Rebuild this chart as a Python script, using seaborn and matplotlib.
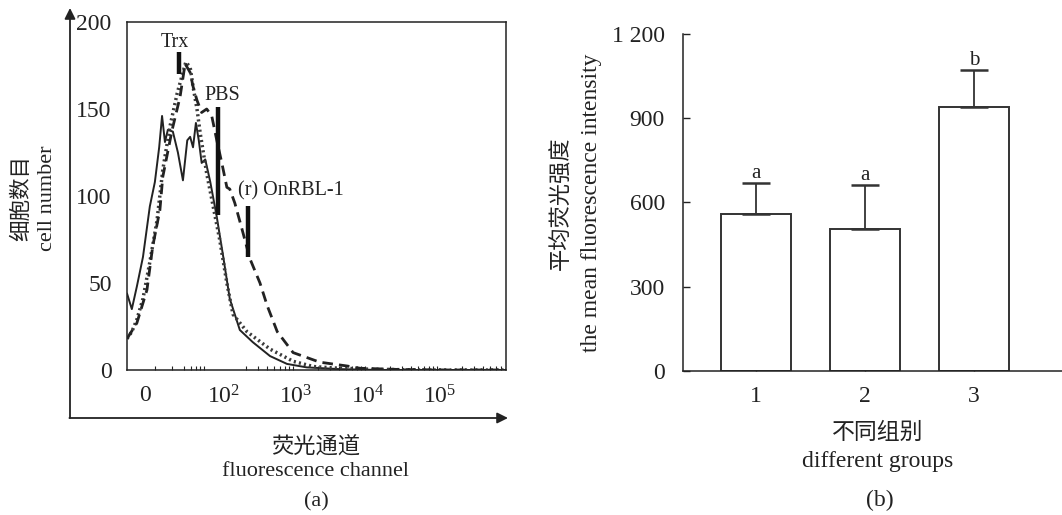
import numpy as np
import pandas as pd
import matplotlib
matplotlib.use("Agg")
import matplotlib.pyplot as plt
import seaborn as sns

sns.set_theme(style="white")
plt.rcParams["font.family"] = ["Liberation Serif", "Noto Sans CJK SC", "DejaVu Sans"]
plt.rcParams["axes.unicode_minus"] = False

INK = "#222222"
W, H = 1062, 515

# ── (a) flow histogram, x in display decades ("0" sits at 0.9) ─────
solid_x = [0.653, 0.72, 0.79, 0.875, 0.97, 1.04, 1.10, 1.14, 1.18, 1.22, 1.29, 1.36,
           1.43, 1.49, 1.53, 1.57, 1.61, 1.65, 1.69, 1.74, 1.81, 1.90, 1.99, 2.08,
           2.22, 2.40, 2.64, 2.875, 3.15, 3.61, 4.17, 5.917]
solid_y = [44, 35, 48, 65, 94, 108, 128, 146, 131, 138, 137, 125,
           109, 132, 134, 128, 142, 132, 119, 121, 108, 88, 65, 41,
           23, 16, 8, 3.5, 1.5, 0.5, 0, 0]

dotted_x = [0.653, 0.72, 0.79, 0.875, 0.97, 1.07, 1.15, 1.25, 1.35, 1.43, 1.47, 1.53,
            1.57, 1.625, 1.67, 1.76, 1.85, 1.94, 2.04, 2.125, 2.32, 2.64, 2.96,
            3.24, 3.51, 3.99, 4.72, 5.917]
dotted_y = [18, 22, 29, 41, 62, 86, 115, 140, 159, 171, 177, 174,
            163, 150, 136, 113, 94, 75, 50, 32, 22, 12, 5,
            2, 1.2, 0.5, 0, 0]

dashed_x = [0.653, 0.79, 0.93, 1.01, 1.11, 1.15, 1.28, 1.39, 1.46, 1.53, 1.57, 1.625,
            1.69, 1.76, 1.83, 1.90, 1.97, 2.04, 2.08, 2.15, 2.25, 2.36, 2.50, 2.60,
            2.74, 2.96, 3.33, 3.71, 3.89, 4.44, 5.14, 5.917]
dashed_y = [18, 27, 46, 71, 92, 111, 138, 157, 176, 171, 163, 155,
            148, 150, 146, 132, 119, 105, 104, 96, 81, 64, 50, 37,
            22, 10, 4.5, 2.3, 1, 0.3, 0, 0]

marker_x    = [1.375, 1.92, 2.33]
marker_low  = [170, 89, 65]
marker_high = [183, 151, 94]
marker_text = ["Trx", "PBS", "(r) OnRBL-1"]
text_x      = [1.32, 1.97, 2.19]
text_y      = [188, 158, 103]
text_ha     = ["center", "center", "left"]

x_ticks  = [0.9, 2, 3, 4, 5]
x_labels = ["0", r"$\mathregular{10^2}$", r"$\mathregular{10^3}$",
            r"$\mathregular{10^4}$", r"$\mathregular{10^5}$"]
x_minor_low = [1.04, 1.28, 1.44, 1.54, 1.61, 1.67, 1.72]
y_ticks_a = [0, 50, 100, 150, 200]

# ── (b) mean fluorescence intensity ────────────────────────────────
groups = ["1", "2", "3"]
means  = [558, 505, 939]
errors = [110, 156, 131]
letters = ["a", "a", "b"]
y_ticks_b  = [0, 300, 600, 900, 1200]
y_labels_b = ["0", "300", "600", "900", "1 200"]


def px(x, y):
    """pixel (from top-left) -> figure fraction"""
    return x / W, 1 - y / H


fig = plt.figure(figsize=(W / 100, H / 100), dpi=100)

# ---------------- panel (a) ----------------
ax1 = fig.add_axes([127 / W, 1 - 370 / H, 379 / W, 348 / H])
for xs, ys, ls, lw, col in [(solid_x, solid_y, "-", 1.4, INK),
                            (dotted_x, dotted_y, (0, (0.6, 0.9)), 2.5, "#3a3a3a"),
                            (dashed_x, dashed_y, (0, (3.8, 2.2)), 2.0, INK)]:
    df = pd.DataFrame({"pos": xs, "count": ys})
    sns.lineplot(data=df, x="pos", y="count", ax=ax1, color=col,
                 linestyle=ls, linewidth=lw, sort=False)

ax1.vlines(marker_x, marker_low, marker_high, color="#111111", linewidth=3.2)
for tx, ty, s, ha in zip(text_x, text_y, marker_text, text_ha):
    ax1.text(tx, ty, s, ha=ha, va="center", fontsize=14.5, color=INK)

ax1.set_xlim(0.653, 5.917)
ax1.set_ylim(0, 200)
ax1.set_xticks(x_ticks)
ax1.set_xticklabels(x_labels)
minor = x_minor_low + [d + np.log10(k) for d in range(2, 6) for k in range(2, 10)]
ax1.set_xticks([m for m in minor if m < 5.9], minor=True)
ax1.set_yticks(y_ticks_a)
ax1.tick_params(axis="both", which="major", direction="in", length=5, width=1,
                color=INK, labelsize=17, labelcolor=INK)
ax1.tick_params(axis="x", which="major", pad=11)
ax1.tick_params(axis="y", which="major", pad=11)
ax1.tick_params(axis="x", which="minor", direction="in", length=3, width=0.8,
                color=INK, bottom=True)
ax1.set_xlabel("")
ax1.set_ylabel("")
for sp in ax1.spines.values():
    sp.set_color(INK)
    sp.set_linewidth(1.1)

# outer arrow frame
arrow_kw = dict(arrowstyle="-|>", color=INK, lw=1.3, mutation_scale=16,
                shrinkA=0, shrinkB=0)
fig.add_artist(matplotlib.patches.FancyArrowPatch(px(70, 418), px(70, 8),
                                                  transform=fig.transFigure, **arrow_kw))
fig.add_artist(matplotlib.patches.FancyArrowPatch(px(69.4, 418), px(508, 418),
                                                  transform=fig.transFigure, **arrow_kw))

fig.text(*px(22, 198), "细胞数目", rotation=90, ha="center", va="center",
         fontsize=15.5, color=INK)
fig.text(*px(48, 198), "cell number", rotation=90, ha="center", va="center",
         fontsize=16, color=INK)
fig.text(*px(316, 447), "荧光通道", ha="center", va="center", fontsize=16, color=INK)
fig.text(*px(316, 472), "fluorescence channel", ha="center", va="center",
         fontsize=16, color=INK)
fig.text(*px(316, 502), "(a)", ha="center", va="center", fontsize=16, color=INK)

# ---------------- panel (b) ----------------
ax2 = fig.add_axes([683 / W, 1 - 371 / H, 379 / W, 337.5 / H])
bar_df = pd.DataFrame({"group": groups, "mfi": means})
sns.barplot(data=bar_df, x="group", y="mfi", ax=ax2, color="white",
            edgecolor="#333333", linewidth=1.4, width=0.64, errorbar=None)
pos = np.arange(len(groups))
ax2.errorbar(pos, means, yerr=[np.zeros(len(errors)), errors], fmt="none",
             ecolor="#333333", elinewidth=1.3, capsize=10, capthick=1.8)
for p, m, e, t in zip(pos, means, errors, letters):
    ax2.text(p, m + e + 17, t, ha="center", va="baseline", fontsize=15, color=INK)

ax2.set_xlim(-0.67, 2.81)
ax2.set_ylim(0, 1200)
ax2.set_yticks(y_ticks_b)
ax2.set_yticklabels(y_labels_b)
ax2.tick_params(axis="both", direction="in", length=5, width=1, color=INK,
                labelsize=17, labelcolor=INK, bottom=True, left=True)
ax2.tick_params(axis="x", pad=11)
ax2.tick_params(axis="y", pad=13)
ax2.set_xlabel("")
ax2.set_ylabel("")
sns.despine(ax=ax2)
for side in ["left", "bottom"]:
    ax2.spines[side].set_color(INK)
    ax2.spines[side].set_linewidth(1.1)

fig.text(*px(562, 203), "平均荧光强度", rotation=90, ha="center", va="center",
         fontsize=16, color=INK)
fig.text(*px(591, 203), "the mean fluorescence intensity", rotation=90,
         ha="center", va="center", fontsize=17, color=INK)
fig.text(*px(878, 433), "不同组别", ha="center", va="center", fontsize=16.5, color=INK)
fig.text(*px(878, 462), "different groups", ha="center", va="center",
         fontsize=17, color=INK)
fig.text(*px(880, 500), "(b)", ha="center", va="center", fontsize=17, color=INK)

fig.savefig("out.png", dpi=100, facecolor="white")
plt.close(fig)
